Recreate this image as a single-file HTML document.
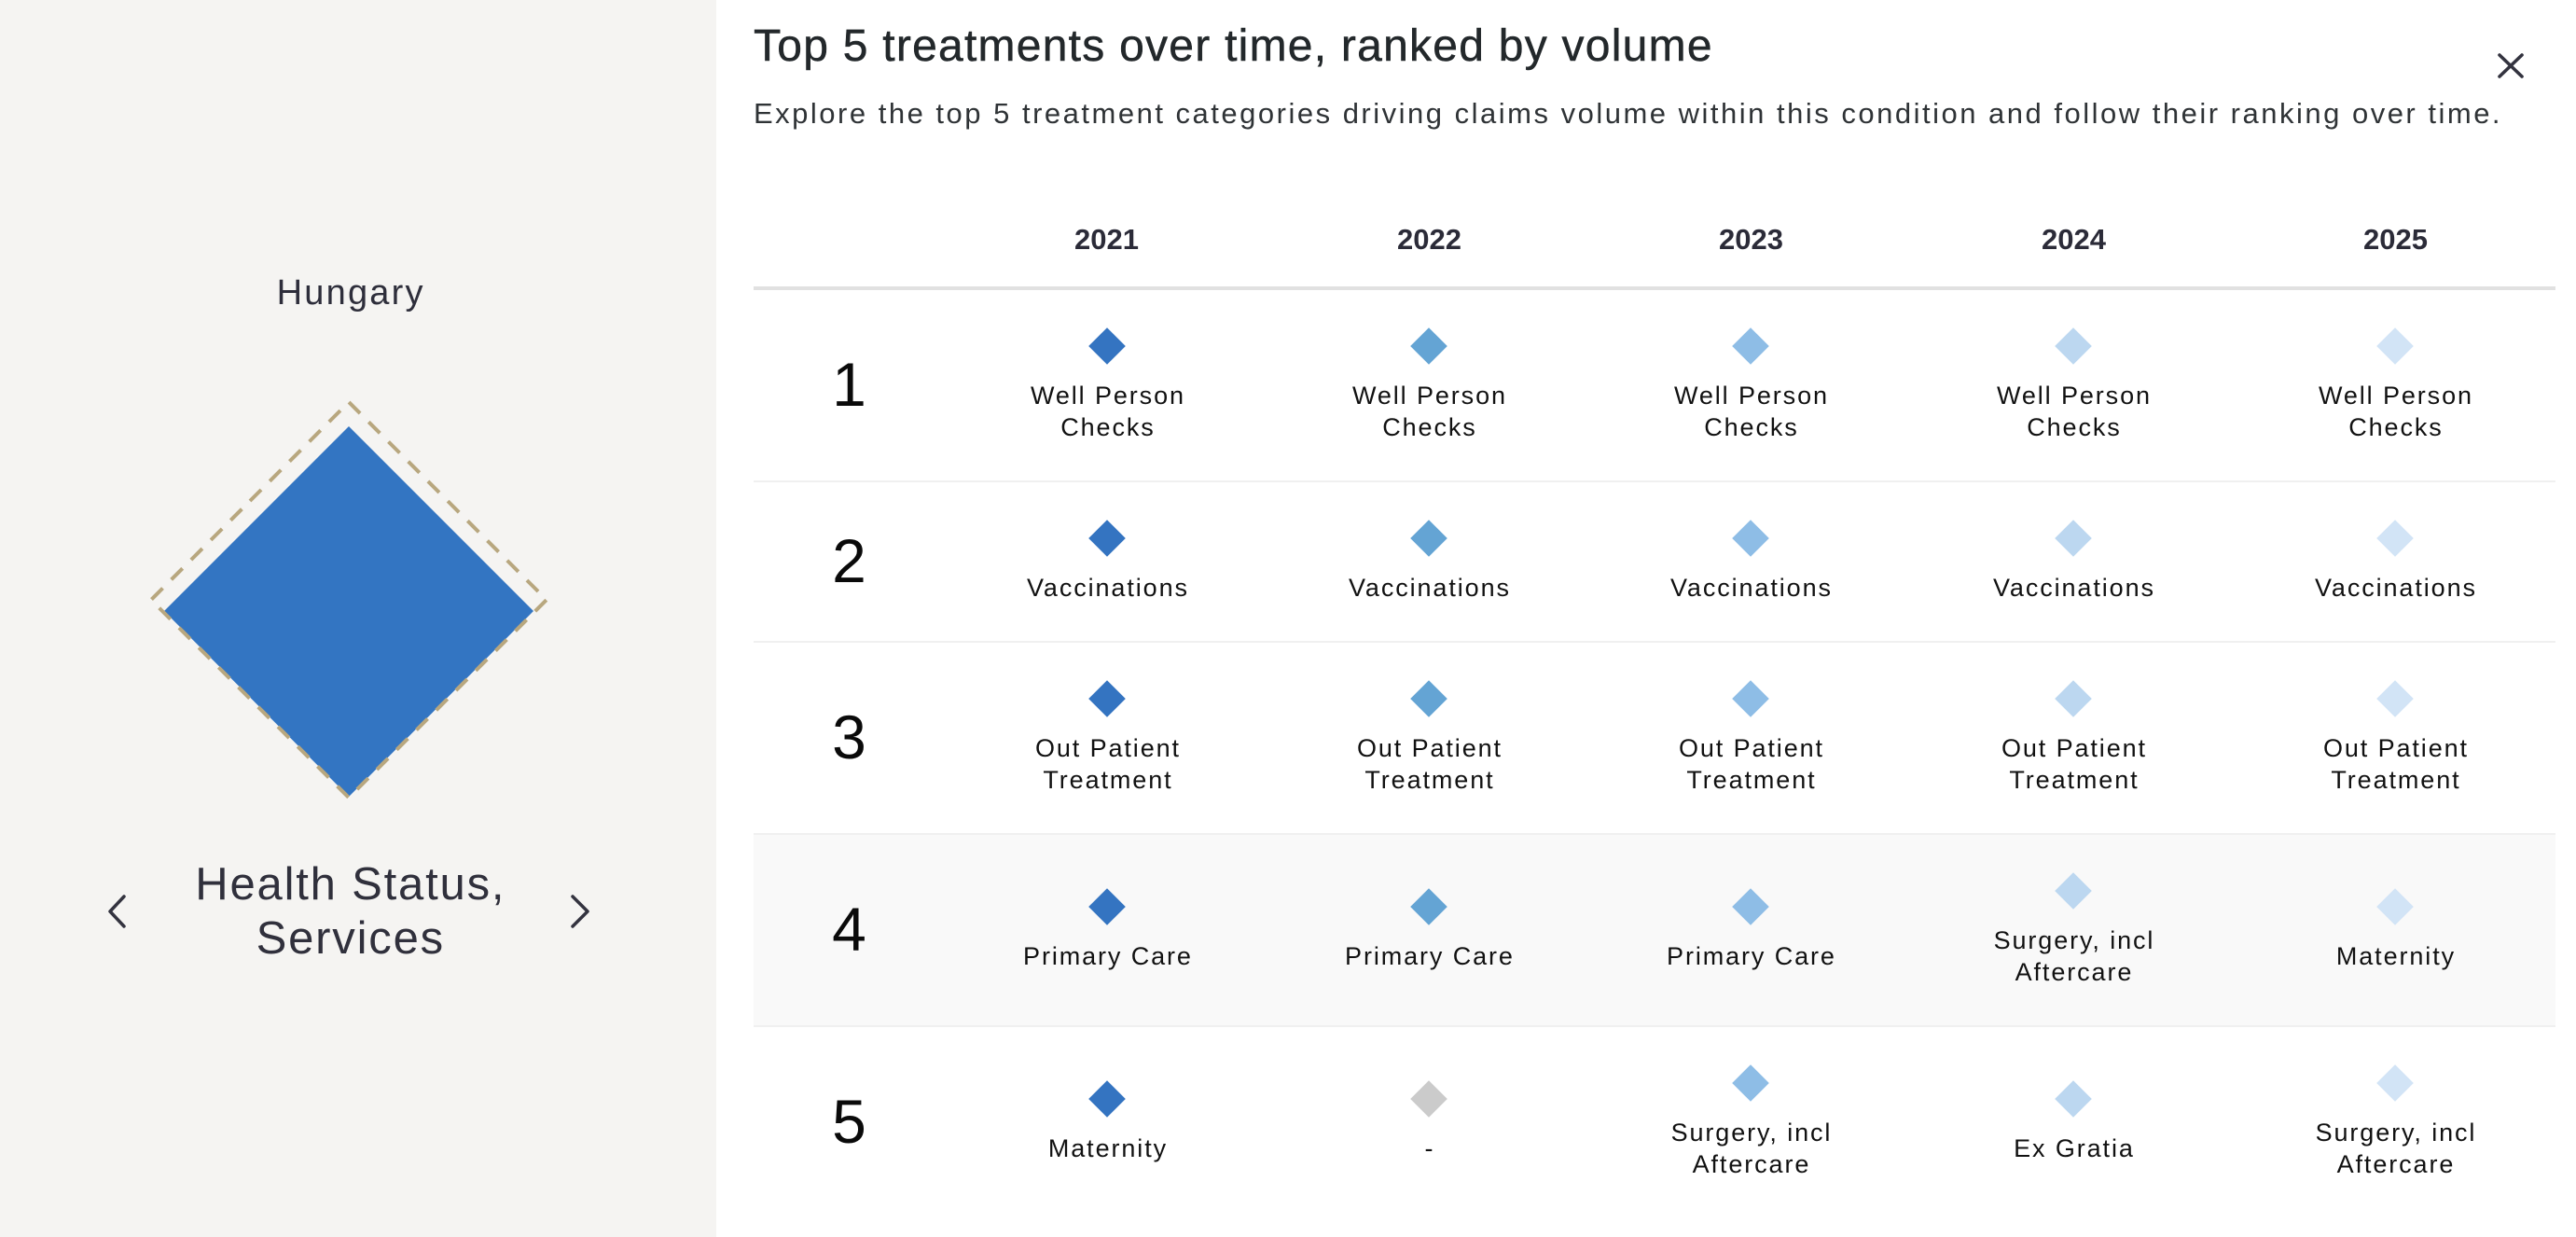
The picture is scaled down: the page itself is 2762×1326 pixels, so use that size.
<!DOCTYPE html>
<html>
<head>
<meta charset="utf-8">
<style>
  html, body { margin:0; padding:0; }
  body { width:2762px; height:1326px; position:relative; overflow:hidden; background:#ffffff; font-family:"Liberation Sans", Arial, sans-serif; }
  .abs { position:absolute; }
  .panel { left:0; top:0; width:768px; height:1326px; background:#f5f4f2; }
  .title { left:808px; top:26px; font-size:48px; line-height:48px; color:#23282b; letter-spacing:1.25px; white-space:nowrap; -webkit-text-stroke:0.5px #23282b; }
  .sub { left:808px; top:106px; font-size:31px; line-height:31px; color:#2f3336; letter-spacing:2.5px; white-space:nowrap; }
  .year { width:345px; text-align:center; font-size:31px; line-height:31px; font-weight:bold; color:#2b2b38; top:241px; }
  .hline { left:808px; width:1932px; height:4px; top:307px; background:#e1e1e1; }
  .sep { left:808px; width:1932px; height:2px; background:#f0f0f0; }
  .bg4 { left:808px; width:1932px; top:895px; height:204px; background:#f9f9f9; }
  .rank { width:205px; left:808px; text-align:center; font-size:66px; line-height:66px; color:#0a0a0a; }
  .lbl { width:340px; text-align:center; font-size:27px; line-height:34px; color:#111111; letter-spacing:1.9px; padding-left:1.9px; box-sizing:border-box; }
  .dia { width:28px; height:28px; transform:rotate(45deg); }
  .country { left:0; width:748px; text-align:center; font-size:38px; line-height:38px; color:#2e2e3b; letter-spacing:2.2px; padding-left:2.2px; top:295px; }
  .cat { left:0; width:748px; text-align:center; font-size:49px; line-height:58px; color:#30303c; letter-spacing:1.8px; padding-left:1.8px; top:919px; }
</style>
</head>
<body>
  <div class="abs panel"></div>

  <div class="abs country">Hungary</div>

  <svg class="abs" style="left:0;top:0" width="768" height="1326" viewBox="0 0 768 1326">
    <polygon points="374,457 572,655 374,854 176,655" fill="#3375c2"/>
    <path d="M268,537 L374,431 L586,643 L374,855 L162,643 Z" fill="none" stroke="#b8a77f" stroke-width="4" stroke-dasharray="17 13" stroke-linejoin="miter"/>
    <polyline points="133,961 118,977 133,993" fill="none" stroke="#33333f" stroke-width="3.5" stroke-linecap="round" stroke-linejoin="round"/>
    <polyline points="614,961 630,977 614,993" fill="none" stroke="#33333f" stroke-width="3.5" stroke-linecap="round" stroke-linejoin="round"/>
  </svg>

  <div class="abs cat">Health Status,<br>Services</div>

  <div class="abs title">Top 5 treatments over time, ranked by volume</div>
  <div class="abs sub">Explore the top 5 treatment categories driving claims volume within this condition and follow their ranking over time.</div>

  <svg class="abs" style="left:2670px;top:50px" width="45" height="42" viewBox="2670 50 45 42">
    <line x1="2680" y1="59" x2="2704" y2="82" stroke="#33333f" stroke-width="3.6" stroke-linecap="round"/>
    <line x1="2704" y1="59" x2="2680" y2="82" stroke="#33333f" stroke-width="3.6" stroke-linecap="round"/>
  </svg>

  <div class="abs year" style="left:1014px">2021</div>
  <div class="abs year" style="left:1360px">2022</div>
  <div class="abs year" style="left:1705px">2023</div>
  <div class="abs year" style="left:2051px">2024</div>
  <div class="abs year" style="left:2396px">2025</div>

  <div class="abs hline"></div>
  <div class="abs bg4"></div>
  <div class="abs sep" style="top:515px"></div>
  <div class="abs sep" style="top:687px"></div>
  <div class="abs sep" style="top:893px"></div>
  <div class="abs sep" style="top:1099px"></div>

  <!-- rank numbers: top = rc + 22 - 55.9 -->
  <div class="abs rank" style="top:379px">1</div>
  <div class="abs rank" style="top:568px">2</div>
  <div class="abs rank" style="top:757px">3</div>
  <div class="abs rank" style="top:963px">4</div>
  <div class="abs rank" style="top:1169px">5</div>

  <!-- Row 1 (rc 413) two-line: diamond 371, text top 433-26.4=406.6 -->
  <div class="abs dia" style="left:1173px;top:357px;background:#3474c1"></div>
  <div class="abs dia" style="left:1518px;top:357px;background:#64a4d4"></div>
  <div class="abs dia" style="left:1863px;top:357px;background:#8ebde6"></div>
  <div class="abs dia" style="left:2209px;top:357px;background:#bcd7f0"></div>
  <div class="abs dia" style="left:2554px;top:357px;background:#d2e4f6"></div>
  <div class="abs lbl" style="left:1017px;top:407px">Well Person<br>Checks</div>
  <div class="abs lbl" style="left:1362px;top:407px">Well Person<br>Checks</div>
  <div class="abs lbl" style="left:1707px;top:407px">Well Person<br>Checks</div>
  <div class="abs lbl" style="left:2053px;top:407px">Well Person<br>Checks</div>
  <div class="abs lbl" style="left:2398px;top:407px">Well Person<br>Checks</div>

  <!-- Row 2 (rc 602) single: diamond 577, baseline 639 -> top 612.6 -->
  <div class="abs dia" style="left:1173px;top:563px;background:#3474c1"></div>
  <div class="abs dia" style="left:1518px;top:563px;background:#64a4d4"></div>
  <div class="abs dia" style="left:1863px;top:563px;background:#8ebde6"></div>
  <div class="abs dia" style="left:2209px;top:563px;background:#bcd7f0"></div>
  <div class="abs dia" style="left:2554px;top:563px;background:#d2e4f6"></div>
  <div class="abs lbl" style="left:1017px;top:613px">Vaccinations</div>
  <div class="abs lbl" style="left:1362px;top:613px">Vaccinations</div>
  <div class="abs lbl" style="left:1707px;top:613px">Vaccinations</div>
  <div class="abs lbl" style="left:2053px;top:613px">Vaccinations</div>
  <div class="abs lbl" style="left:2398px;top:613px">Vaccinations</div>

  <!-- Row 3 (rc 791) two-line: diamond 749, first baseline 811 -> top 784.6 -->
  <div class="abs dia" style="left:1173px;top:735px;background:#3474c1"></div>
  <div class="abs dia" style="left:1518px;top:735px;background:#64a4d4"></div>
  <div class="abs dia" style="left:1863px;top:735px;background:#8ebde6"></div>
  <div class="abs dia" style="left:2209px;top:735px;background:#bcd7f0"></div>
  <div class="abs dia" style="left:2554px;top:735px;background:#d2e4f6"></div>
  <div class="abs lbl" style="left:1017px;top:785px">Out Patient<br>Treatment</div>
  <div class="abs lbl" style="left:1362px;top:785px">Out Patient<br>Treatment</div>
  <div class="abs lbl" style="left:1707px;top:785px">Out Patient<br>Treatment</div>
  <div class="abs lbl" style="left:2053px;top:785px">Out Patient<br>Treatment</div>
  <div class="abs lbl" style="left:2398px;top:785px">Out Patient<br>Treatment</div>

  <!-- Row 4 (rc 997): single diamond 972 / text top 1007.6 ; two-line diamond 955 / text top 990.6 -->
  <div class="abs dia" style="left:1173px;top:958px;background:#3474c1"></div>
  <div class="abs dia" style="left:1518px;top:958px;background:#64a4d4"></div>
  <div class="abs dia" style="left:1863px;top:958px;background:#8ebde6"></div>
  <div class="abs dia" style="left:2209px;top:941px;background:#bcd7f0"></div>
  <div class="abs dia" style="left:2554px;top:958px;background:#d2e4f6"></div>
  <div class="abs lbl" style="left:1017px;top:1008px">Primary Care</div>
  <div class="abs lbl" style="left:1362px;top:1008px">Primary Care</div>
  <div class="abs lbl" style="left:1707px;top:1008px">Primary Care</div>
  <div class="abs lbl" style="left:2053px;top:991px">Surgery, incl<br>Aftercare</div>
  <div class="abs lbl" style="left:2398px;top:1008px">Maternity</div>

  <!-- Row 5 (rc 1203): single diamond 1178 / text top 1213.6 ; two-line diamond 1161 / text top 1196.6 -->
  <div class="abs dia" style="left:1173px;top:1164px;background:#3474c1"></div>
  <div class="abs dia" style="left:1518px;top:1164px;background:#cbcbcb"></div>
  <div class="abs dia" style="left:1863px;top:1147px;background:#8ebde6"></div>
  <div class="abs dia" style="left:2209px;top:1164px;background:#bcd7f0"></div>
  <div class="abs dia" style="left:2554px;top:1147px;background:#d2e4f6"></div>
  <div class="abs lbl" style="left:1017px;top:1214px">Maternity</div>
  <div class="abs lbl" style="left:1362px;top:1214px">-</div>
  <div class="abs lbl" style="left:1707px;top:1197px">Surgery, incl<br>Aftercare</div>
  <div class="abs lbl" style="left:2053px;top:1214px">Ex Gratia</div>
  <div class="abs lbl" style="left:2398px;top:1197px">Surgery, incl<br>Aftercare</div>
</body>
</html>
